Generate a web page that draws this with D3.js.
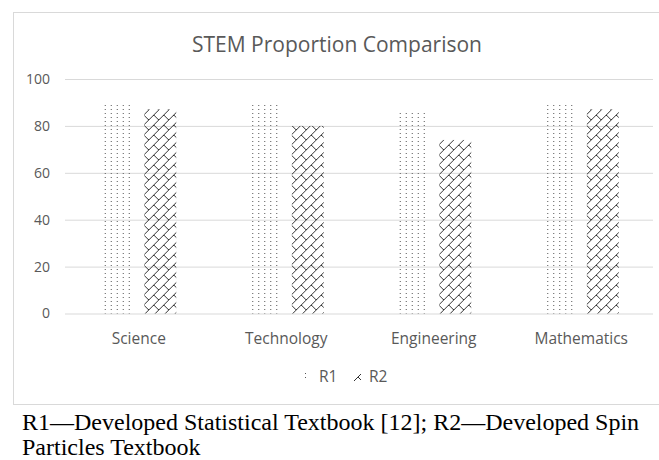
<!DOCTYPE html>
<html>
<head>
<meta charset="utf-8">
<script src="https://cdn.jsdelivr.net/npm/d3@7"></script>
<style>
  body { margin: 0; background: #fff; }
  svg { display: block; }
</style>
</head>
<body>
<div id="chart"></div>
<script>
// values
const categories = ['Science', 'Technology', 'Engineering', 'Mathematics'];
const seriesNames = ['R1', 'R2'];
const r1Values = [90, 90, 86, 90];
const r2Values = [87, 80, 74, 87];
const yTicks = [0, 20, 40, 60, 80, 100];
const chartTitle = 'STEM Proportion Comparison';
const captionLines = [
    'R1\u2014Developed Statistical Textbook [12]; R2\u2014Developed Spin',
    'Particles Textbook'
];

const w = 659;
const h = 460;
const margin = { left: 65, right: 4, top: 79, bottom: 146 };

const svg = d3.select('#chart').append('svg').attr('width', w).attr('height', h);

// patterns: dotted (R1) and diagonal brick (R2)
const defs = svg.append('defs');
const dots = defs.append('pattern').attr('id', 'pat-r1')
    .attr('patternUnits', 'userSpaceOnUse').attr('width', 6).attr('height', 4);
dots.append('rect').attr('x', 2).attr('y', 1).attr('width', 1).attr('height', 1).attr('fill', '#555');

const brick = defs.append('pattern').attr('id', 'pat-r2')
    .attr('patternUnits', 'userSpaceOnUse').attr('width', 10).attr('height', 10);
brick.append('path')
    .attr('d', 'M0,10L10,0M-1,1L1,-1M9,11L11,9M5,5L10,10')
    .attr('stroke', '#333').attr('stroke-width', 1).attr('fill', 'none');

// chart frame
svg.append('rect')
    .attr('x', 13.5).attr('y', 12.5)
    .attr('width', w + 10).attr('height', 392)
    .attr('fill', 'none').attr('stroke', '#d9d9d9');

// scales
const x0 = d3.scaleBand().domain(categories).range([margin.left, w - margin.right]);
const x1 = d3.scaleBand().domain(seriesNames).range([-37.5, 37.5]).paddingInner(0.26);
const y = d3.scaleLinear().domain([0, 100]).range([313.5, 79]);

// gridlines with tick labels
const yAxis = d3.axisLeft(y).tickValues(yTicks).tickSize(-(w - margin.right - margin.left - 2)).tickPadding(15);
const gy = svg.append('g').attr('transform', `translate(${margin.left},0)`).call(yAxis);
gy.select('.domain').remove();
gy.selectAll('.tick line').attr('stroke', '#d9d9d9');
gy.selectAll('.tick text')
    .attr('fill', '#595959')
    .style('font-family', '"Open Sans", sans-serif')
    .style('font-size', '14px');

// bars
const rows = categories.map((c, i) => ({ cat: c, vals: [r1Values[i], r2Values[i]] }));
const groups = svg.append('g').selectAll('g')
    .data(rows)
    .enter()
    .append('g')
    .attr('transform', d => `translate(${x0(d.cat) + x0.bandwidth() / 2},0)`);

groups.selectAll('rect')
    .data(d => d.vals.map((v, j) => ({ key: seriesNames[j], v: v })))
    .enter()
    .append('rect')
    .attr('x', d => x1(d.key))
    .attr('y', d => y(d.v))
    .attr('width', x1.bandwidth())
    .attr('height', d => y(0) - y(d.v))
    .attr('fill', d => d.key === 'R1' ? 'url(#pat-r1)' : 'url(#pat-r2)');

// category labels
svg.append('g').selectAll('text')
    .data(categories)
    .enter()
    .append('text')
    .attr('x', d => x0(d) + x0.bandwidth() / 2)
    .attr('y', 344)
    .attr('text-anchor', 'middle')
    .attr('fill', '#595959')
    .style('font-family', '"Open Sans", sans-serif')
    .style('font-size', '15.5px')
    .text(d => d);

// title
svg.append('text')
    .attr('x', 337).attr('y', 52)
    .attr('text-anchor', 'middle')
    .attr('fill', '#595959')
    .style('font-family', '"Open Sans", sans-serif')
    .style('font-size', '21px')
    .text(chartTitle);

// legend
const legend = svg.append('g').attr('transform', 'translate(303,372)');
const legendItems = legend.selectAll('g')
    .data(seriesNames)
    .enter()
    .append('g')
    .attr('transform', (d, i) => `translate(${i * 50},0)`);
legendItems.append('rect')
    .attr('width', 8).attr('height', 9)
    .attr('fill', d => d === 'R1' ? 'url(#pat-r1)' : 'url(#pat-r2)');
legendItems.append('text')
    .attr('x', 16).attr('y', 10)
    .attr('fill', '#595959')
    .style('font-family', '"Open Sans", sans-serif')
    .style('font-size', '15.5px')
    .text(d => d);

// caption below the chart
svg.append('g').selectAll('text')
    .data(captionLines)
    .enter()
    .append('text')
    .attr('x', 22)
    .attr('y', (d, i) => 430 + i * 25)
    .attr('fill', '#000')
    .style('font-family', '"Liberation Serif", "Times New Roman", serif')
    .style('font-size', '24px')
    .text(d => d);
</script>
</body>
</html>
